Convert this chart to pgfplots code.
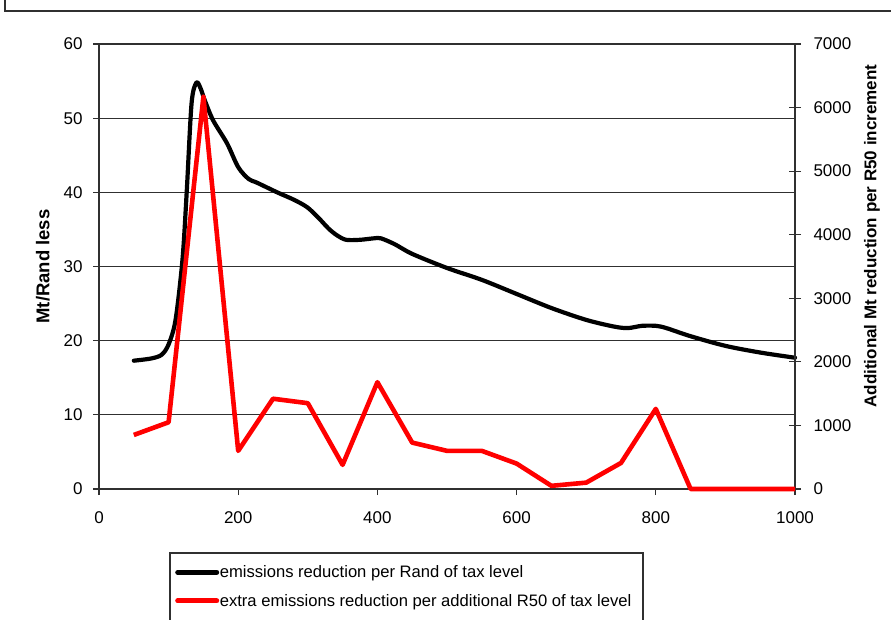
\documentclass[border=0pt]{standalone}
\usepackage{fontspec}
\setmainfont{Liberation Sans}
\usepackage{pgfplots}
\pgfplotsset{compat=1.18}
\definecolor{axgray}{HTML}{303030}
\definecolor{exred}{HTML}{FF0000}
\newcommand{\tickfont}{\fontsize{17}{20}\selectfont}
\newcommand{\labfont}{\fontsize{17}{20}\selectfont\bfseries}
\begin{document}
\begin{tikzpicture}
% outer chart frame (partially visible)
\draw[line width=1.4pt, axgray] (5pt,640pt) -- (5pt,608pt) -- (900pt,608pt);
\begin{axis}[
  at={(99pt,130pt)}, anchor=south west,
  scale only axis, width=696pt, height=445pt,
  xmin=0, xmax=1000, ymin=0, ymax=60,
  axis x line*=bottom, axis y line*=left,
  xtick={0,200,...,1000}, ytick={0,10,...,60},
  tick align=outside, major tick length=6pt,
  ymajorgrids,
  grid style={line width=1.1pt, axgray},
  axis line style={line width=1.1pt, axgray, -},
  tick style={line width=1.1pt, axgray},
  ticklabel style={font=\tickfont},
  yticklabel style={xshift=-7pt},
  xticklabel style={yshift=-13pt},
  /pgf/number format/assume math mode=true,
  /pgf/number format/1000 sep={},
  ylabel={Mt/Rand less},
  ylabel style={font=\fontsize{18.5}{20}\selectfont\bfseries, at={(axis description cs:-0.0805,0.5)}, anchor=center},
  clip=false,
]
\addplot[black, line width=4.2pt, smooth, tension=0.5, line join=round, line cap=round] coordinates {
(50,17.3) (75,17.6) (90,18.1) (100,19.5) (110,22.8) (120,31) (126,40) (133,52)
(140,54.8) (146,54) (152,52.4) (164,49.7) (184,46.6) (200,43.4) (215,41.8)
(227,41.3) (256,40) (280,39) (299,38) (315,36.6) (330,35.1) (342,34.2)
(355,33.6) (375,33.6) (395,33.8) (405,33.8) (425,33) (450,31.7) (500,29.8)
(550,28.2) (600,26.3) (650,24.4) (700,22.8) (740,21.9) (760,21.7) (780,22)
(800,22) (815,21.7) (850,20.6) (900,19.3) (950,18.4) (1000,17.7)
};
\end{axis}
\begin{axis}[
  at={(99pt,130pt)}, anchor=south west,
  scale only axis, width=696pt, height=445pt,
  xmin=0, xmax=1000, ymin=0, ymax=7000,
  axis x line=none, axis y line*=right,
  ytick={0,1000,...,7000},
  tick align=center, major tick length=12pt,
  axis line style={line width=1.1pt, axgray, -},
  tick style={line width=1.1pt, axgray},
  ticklabel style={font=\tickfont},
  yticklabel style={xshift=9pt},
  /pgf/number format/assume math mode=true,
  /pgf/number format/1000 sep={},
  ylabel={Additional Mt reduction per R50 increment},
  ylabel style={font=\labfont, at={(axis description cs:1.1106,0.5685)}, anchor=center},
  clip=false,
  legend style={at={(axis description cs:0.1092,-0.170)}, anchor=north west,
    draw=none, fill=none, inner sep=0pt, font=\fontsize{16.6}{20}\selectfont,
    row sep=14pt,
    nodes={inner sep=0.6pt}},
  legend cell align=left,
  legend image code/.code={\draw[#1, line width=5pt, line cap=round] (0pt,0pt) -- (39pt,0pt);},
]
\addlegendimage{black}
\addlegendentry{emissions reduction per Rand of tax level}
\addplot[exred, line width=4.6pt, line join=round] coordinates {
(50,850) (100,1050) (150,6170) (200,600) (250,1420) (300,1350) (350,380)
(400,1680) (450,730) (500,600) (550,600) (600,400) (650,50) (700,100)
(750,410) (800,1260) (850,0) (900,0) (950,0) (1000,0)
};
\addlegendentry{extra emissions reduction per additional R50 of tax level}
\end{axis}
% legend frame
\draw[line width=1.1pt, axgray] (170pt,-20pt) -- (170pt,66pt) -- (643pt,66pt) -- (643pt,-20pt);
\pgfresetboundingbox
\path[use as bounding box] (0pt,0pt) rectangle (891pt,619pt);
\end{tikzpicture}
\end{document}
